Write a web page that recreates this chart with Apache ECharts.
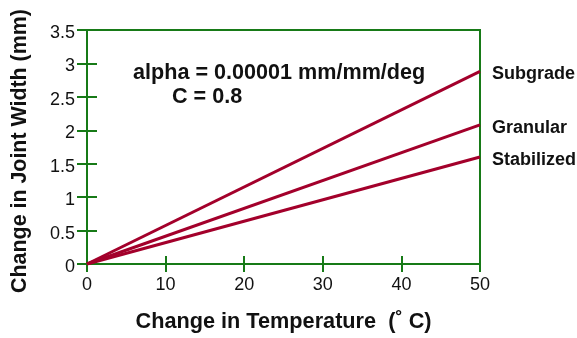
<!DOCTYPE html>
<html>
<head>
<meta charset="utf-8">
<script src="https://cdn.jsdelivr.net/npm/echarts@6/dist/echarts.min.js"></script>
<style>
  html, body { margin: 0; padding: 0; background: #fff; }
  #chart { width: 577px; height: 338px; }
</style>
</head>
<body>
<div id="chart"></div>
<script>
// temperature change (deg C) at the two ends of each line
const temps = [0, 50]
// joint width change (mm) per base type
const subgrade = [0, 2.88]
const granular = [0, 2.08]
const stabilized = [0, 1.6]
const seriesNames = ['Subgrade', 'Granular', 'Stabilized']

const green = '#177a17'
const red = '#a3002b'
const font = 'Liberation Sans, Arial, sans-serif'

const xBase = {
  type: 'value',
  min: 0,
  max: 50,
  interval: 10,
  splitLine: { show: false }
}
const yBase = {
  type: 'value',
  min: 0,
  max: 3.5,
  interval: 0.5,
  splitLine: { show: false }
}

const makeLine = (name, values) => ({
  name: name,
  type: 'line',
  data: temps.map((t, i) => [t, values[i]]),
  symbol: 'none',
  lineStyle: { color: red, width: 3 },
  color: red,
  endLabel: {
    show: true,
    formatter: '{a}',
    distance: 12,
    offset: [0, 3],
    color: '#111',
    fontFamily: font,
    fontWeight: 'bold',
    fontSize: 18
  }
})

const options = {
  animation: false,
  grid: {
    left: 87,
    right: 97,
    top: 30,
    bottom: 73,
    show: true,
    borderColor: green,
    borderWidth: 2
  },
  xAxis: [
    Object.assign({}, xBase, {
      name: 'Change in Temperature  (\u02da C)',
      nameLocation: 'middle',
      nameGap: 47,
      nameTextStyle: { color: '#111', fontFamily: font, fontWeight: 'bold', fontSize: 21.7 },
      axisLine: { lineStyle: { color: green, width: 2 } },
      axisTick: { length: 8, lineStyle: { color: green, width: 2 } },
      axisLabel: { margin: 12, color: '#111', fontFamily: font, fontSize: 18 }
    }),
    Object.assign({}, xBase, {
      position: 'bottom',
      axisLine: { show: false },
      axisTick: { inside: true, length: 8, lineStyle: { color: green, width: 2 } },
      axisLabel: { show: false }
    })
  ],
  yAxis: [
    Object.assign({}, yBase, {
      name: 'Change in Joint Width (mm)',
      nameLocation: 'middle',
      nameGap: 56,
      nameTextStyle: { color: '#111', fontFamily: font, fontWeight: 'bold', fontSize: 21.4, padding: [0, 8, 0, 0] },
      axisLine: { lineStyle: { color: green, width: 2 } },
      axisTick: { length: 10, lineStyle: { color: green, width: 2 } },
      axisLabel: { margin: 12, verticalAlign: 'top', lineHeight: 6, color: '#111', fontFamily: font, fontSize: 18 }
    }),
    Object.assign({}, yBase, {
      position: 'left',
      axisLine: { show: false },
      axisTick: { inside: true, length: 10, lineStyle: { color: green, width: 2 } },
      axisLabel: { show: false }
    })
  ],
  graphic: [
    {
      type: 'text',
      left: 133,
      top: 62,
      style: { text: 'alpha = 0.00001 mm/mm/deg', fill: '#111', font: 'bold 21.6px ' + font }
    },
    {
      type: 'text',
      left: 172,
      top: 86,
      style: { text: 'C = 0.8', fill: '#111', font: 'bold 21.6px ' + font }
    }
  ],
  series: [
    makeLine(seriesNames[0], subgrade),
    makeLine(seriesNames[1], granular),
    makeLine(seriesNames[2], stabilized)
  ]
}

const chart = echarts.init(document.getElementById('chart'))
chart.setOption(options, true)
</script>
</body>
</html>
